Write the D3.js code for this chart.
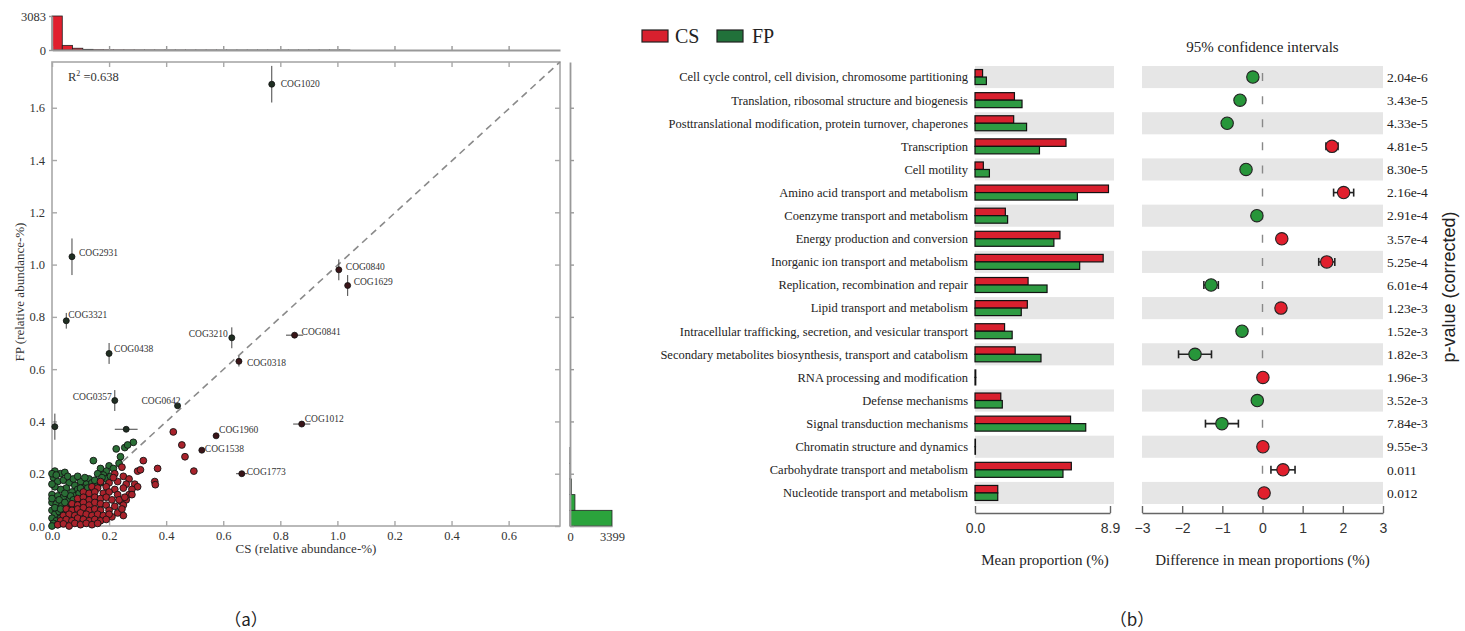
<!DOCTYPE html>
<html>
<head>
<meta charset="utf-8">
<script src="https://cdn.jsdelivr.net/npm/d3@7"></script>
<style>
  body { margin: 0; background: #fff; }
  svg { display: block; }
</style>
</head>
<body>
<div id="chart"></div>
<script>
// ---------- panel (a) : scatter CS vs FP ----------
var xTicks = [0, 0.2, 0.4, 0.6, 0.8, 1.0, 1.2, 1.4, 1.6];
var xTickLabels = ["0.0", "0.2", "0.4", "0.6", "0.8", "1.0", "0.2", "0.4", "0.6"];
var yTicks = [0, 0.2, 0.4, 0.6, 0.8, 1.0, 1.2, 1.4, 1.6];
var yTickLabels = ["0.0", "0.2", "0.4", "0.6", "0.8", "1.0", "1.2", "1.4", "1.6"];

// dense cloud, FP-enriched (green) and CS-enriched (red)
var greenPts = [
  [0.145,0.25],[0.225,0.295],[0.255,0.30],[0.285,0.32],[0.265,0.31],[0.24,0.265],[0.235,0.24],[0.2,0.23],
  [0.19,0.21],[0.17,0.22],[0.215,0.22],[0.18,0.195],[0.16,0.2],[0.13,0.18],[0.12,0.16],
  [0.01,0.21],[0.03,0.2],[0.045,0.205],[0.005,0.185],[0.02,0.17],[0.04,0.175],[0.06,0.165],[0.08,0.155],
  [0.1,0.17],[0.11,0.145],[0.09,0.14],[0.07,0.13],[0.05,0.145],[0.03,0.14],[0.01,0.15],
  [0.0,0.12],[0.02,0.115],[0.04,0.11],[0.06,0.1],[0.08,0.115],[0.1,0.12],[0.12,0.13],[0.14,0.14],
  [0.155,0.155],[0.0,0.09],[0.015,0.085],[0.035,0.08],[0.05,0.07],[0.07,0.085],[0.09,0.095],[0.11,0.1],
  [0.13,0.11],[0.0,0.06],[0.01,0.045],[0.025,0.055],[0.04,0.045],[0.055,0.05],[0.0,0.03],[0.015,0.02],
  [0.03,0.03],[0.005,0.01],[0.02,0.005],[0.0,0.0],[0.065,0.06],[0.08,0.07],[0.17,0.165],[0.19,0.18],
  [0.205,0.19],[0.095,0.125],[0.125,0.145],[0.065,0.115],[0.025,0.1],[0.045,0.125],
  [0.0,0.2],[0.015,0.195],[0.055,0.19],[0.075,0.18],[0.09,0.19],[0.115,0.185],[0.14,0.165],[0.0,0.16],
  [0.0,0.105],[0.01,0.07],[0.03,0.065],[0.045,0.09],[0.075,0.1],[0.1,0.145],[0.15,0.175],[0.175,0.185]
];
var redPts = [
  [0.425,0.36],[0.455,0.31],[0.466,0.265],[0.497,0.21],[0.37,0.22],[0.36,0.17],[0.362,0.158],[0.32,0.25],
  [0.30,0.21],[0.31,0.215],[0.29,0.16],[0.30,0.15],[0.245,0.225],[0.25,0.04],
  [0.22,0.2],[0.25,0.19],[0.27,0.18],
  [0.17,0.17],[0.2,0.165],[0.23,0.17],[0.26,0.16],[0.28,0.14],
  [0.14,0.15],[0.16,0.145],[0.19,0.15],[0.22,0.14],[0.25,0.145],[0.27,0.12],
  [0.11,0.13],[0.13,0.125],[0.15,0.13],[0.18,0.125],[0.2,0.13],[0.23,0.12],[0.26,0.1],
  [0.09,0.105],[0.11,0.11],[0.13,0.1],[0.15,0.11],[0.17,0.105],[0.19,0.11],[0.21,0.1],[0.24,0.095],
  [0.07,0.085],[0.09,0.08],[0.11,0.09],[0.13,0.08],[0.15,0.09],[0.17,0.085],[0.19,0.08],[0.22,0.075],[0.25,0.08],
  [0.05,0.065],[0.07,0.06],[0.09,0.065],[0.11,0.07],[0.13,0.06],[0.15,0.065],[0.17,0.06],[0.2,0.06],[0.23,0.05],
  [0.04,0.04],[0.06,0.045],[0.08,0.04],[0.1,0.05],[0.12,0.045],[0.14,0.04],[0.16,0.045],[0.18,0.04],[0.21,0.035],
  [0.03,0.02],[0.05,0.025],[0.07,0.02],[0.09,0.03],[0.11,0.025],[0.13,0.02],[0.15,0.025],[0.17,0.02],
  [0.02,0.005],[0.04,0.008],[0.06,0.0],[0.08,0.01],[0.1,0.005],[0.12,0.01],[0.14,0.005],
  [0.235,0.1],[0.255,0.11],[0.28,0.12],[0.245,0.065],[0.2,0.045],[0.19,0.025],[0.16,0.01],[0.215,0.185]
];

// highlighted COGs with error bars (half widths)
var cogNames = ["COG1020","COG2931","COG3321","COG0438","COG0357","COG0642","COG3210","COG0318",
                "COG0841","COG0840","COG1629","COG1012","COG1960","COG1538","COG1773","",""];
var cogX    = [0.77, 0.07, 0.05, 0.20, 0.22, 0.44, 0.63, 0.655, 0.85, 1.005, 1.036, 0.875, 0.575, 0.525, 0.665, 0.01, 0.26];
var cogY    = [1.69, 1.03, 0.785, 0.66, 0.48, 0.46, 0.72, 0.63, 0.73, 0.98, 0.92, 0.39, 0.345, 0.29, 0.20, 0.38, 0.37];
var cogErrX = [0.00, 0.00, 0.01, 0.00, 0.00, 0.01, 0.00, 0.01, 0.03, 0.01, 0.00, 0.03, 0.01, 0.01, 0.02, 0.00, 0.04];
var cogErrY = [0.07, 0.07, 0.03, 0.04, 0.04, 0.01, 0.04, 0.02, 0.01, 0.04, 0.04, 0.00, 0.00, 0.00, 0.00, 0.05, 0.00];

// marginal histograms
var topHistBin = 0.036;
var topHist = [3083, 420, 160, 60, 25, 15, 10, 8, 6, 5, 4, 3, 3, 2, 2, 2, 1, 1, 1, 1, 1, 1, 1, 1, 1, 1, 1, 1, 1];
var rightHistBin = 0.06;
var rightHist = [3399, 400, 110, 30, 10];

// ---------- panel (b) : extended error bar ----------
var categories = [
  "Cell cycle control, cell division, chromosome partitioning",
  "Translation, ribosomal structure and biogenesis",
  "Posttranslational modification, protein turnover, chaperones",
  "Transcription",
  "Cell motility",
  "Amino acid transport and metabolism",
  "Coenzyme transport and metabolism",
  "Energy production and conversion",
  "Inorganic ion transport and metabolism",
  "Replication, recombination and repair",
  "Lipid transport and metabolism",
  "Intracellular trafficking, secretion, and vesicular transport",
  "Secondary metabolites biosynthesis, transport and catabolism",
  "RNA processing and modification",
  "Defense mechanisms",
  "Signal transduction mechanisms",
  "Chromatin structure and dynamics",
  "Carbohydrate transport and metabolism",
  "Nucleotide transport and metabolism"
];
var csMean = [0.5, 2.6, 2.55, 6.0, 0.55, 8.8, 2.0, 5.6, 8.45, 3.5, 3.45, 1.95, 2.65, 0.05, 1.7, 6.3, 0.03, 6.35, 1.5];
var fpMean = [0.75, 3.1, 3.4, 4.25, 0.95, 6.75, 2.15, 5.2, 6.9, 4.75, 3.05, 2.45, 4.35, 0.05, 1.8, 7.3, 0.03, 5.8, 1.5];
var diffMean = [-0.24, -0.56, -0.88, 1.73, -0.41, 2.02, -0.14, 0.48, 1.6, -1.28, 0.46, -0.51, -1.68, 0.01, -0.13, -1.01, 0.01, 0.51, 0.04];
var diffCI   = [0.04, 0.04, 0.04, 0.15, 0.04, 0.25, 0.04, 0.03, 0.2, 0.18, 0.03, 0.06, 0.41, 0.02, 0.03, 0.41, 0.02, 0.3, 0.03];
var pValues = ["2.04e-6","3.43e-5","4.33e-5","4.81e-5","8.30e-5","2.16e-4","2.91e-4","3.57e-4","5.25e-4",
               "6.01e-4","1.23e-3","1.52e-3","1.82e-3","1.96e-3","3.52e-3","7.84e-3","9.55e-3","0.011","0.012"];
var meanTicks = [0, 8.9];
var diffTicks = [-3, -2, -1, 0, 1, 2, 3];

// ---------- drawing ----------
var W = 1465, H = 631;
var serif = "Liberation Serif, DejaVu Serif, serif";
var sans = "Liberation Sans, DejaVu Sans, sans-serif";
var RED = "#e11f2d", GREEN = "#27963a";

var svg = d3.select("#chart").append("svg")
    .attr("width", W).attr("height", H);
svg.append("rect").attr("width", W).attr("height", H).attr("fill", "#fff");

function styleAxis(g, color, font, size){
  g.selectAll("path, line").attr("stroke", color).attr("stroke-width", 1.4);
  g.selectAll("text").style("font-family", font).attr("font-size", size).attr("fill", "#333");
}

// scales (a)
var sx = d3.scaleLinear().domain([0, 1.78]).range([52, 560]);
var sy = d3.scaleLinear().domain([0, 1.775]).range([526, 62]);

// frame
svg.append("rect")
  .attr("x", sx(0)).attr("y", sy(1.775))
  .attr("width", sx(1.78) - sx(0)).attr("height", sy(0) - sy(1.775))
  .attr("fill", "none").attr("stroke", "#a8a8a8").attr("stroke-width", 1.6);

var gb = svg.append("g").attr("transform", "translate(0," + sy(0) + ")")
  .call(d3.axisBottom(sx).tickValues(xTicks).tickFormat(function(d, i){ return xTickLabels[i]; })
        .tickSize(-5).tickSizeOuter(0).tickPadding(5));
gb.select(".domain").remove();
styleAxis(gb, "#a8a8a8", serif, 12.5);

var gl = svg.append("g").attr("transform", "translate(" + sx(0) + ",0)")
  .call(d3.axisLeft(sy).tickValues(yTicks).tickFormat(function(d, i){ return yTickLabels[i]; })
        .tickSize(-5).tickSizeOuter(0).tickPadding(7));
gl.select(".domain").remove();
styleAxis(gl, "#a8a8a8", serif, 12.5);

var gt = svg.append("g").attr("transform", "translate(0," + sy(1.775) + ")")
  .call(d3.axisTop(sx).tickValues(xTicks).tickFormat("").tickSize(-5).tickSizeOuter(0));
gt.select(".domain").remove();
styleAxis(gt, "#a8a8a8", serif, 12);

var gr = svg.append("g").attr("transform", "translate(" + sx(1.78) + ",0)")
  .call(d3.axisRight(sy).tickValues(yTicks).tickFormat("").tickSize(-5).tickSizeOuter(0));
gr.select(".domain").remove();
styleAxis(gr, "#a8a8a8", serif, 12);

// diagonal
svg.append("line")
  .attr("x1", sx(0)).attr("y1", sy(0)).attr("x2", sx(1.78)).attr("y2", sy(1.775))
  .attr("stroke", "#8a8a8a").attr("stroke-width", 1.6).attr("stroke-dasharray", "7,5");

// cloud
svg.append("g").selectAll("circle").data(greenPts).enter().append("circle")
  .attr("cx", function(d){ return sx(d[0]); }).attr("cy", function(d){ return sy(d[1]); })
  .attr("r", 3.4).attr("fill", "#2a6e36").attr("stroke", "#141414").attr("stroke-width", 0.9);
svg.append("g").selectAll("circle").data(redPts).enter().append("circle")
  .attr("cx", function(d){ return sx(d[0]); }).attr("cy", function(d){ return sy(d[1]); })
  .attr("r", 3.4).attr("fill", "#a8222b").attr("stroke", "#141414").attr("stroke-width", 0.9);

// highlighted COGs
var cogs = cogNames.map(function(n, i){
  return { name: n, x: cogX[i], y: cogY[i], ex: cogErrX[i], ey: cogErrY[i] };
});
var labelPos = {
  "COG1020": [9, -1, "start"], "COG2931": [7, -4, "start"], "COG3321": [2, -6, "start"],
  "COG0438": [5, -5, "start"], "COG0357": [-3, -4, "end"], "COG0642": [3, -5, "end"],
  "COG3210": [-4, -4, "end"], "COG0318": [8, 1, "start"], "COG0841": [7, -3, "start"],
  "COG0840": [7, -3, "start"], "COG1629": [6, -4, "start"], "COG1012": [3, -5, "start"],
  "COG1960": [3, -6, "start"], "COG1538": [3, -2, "start"], "COG1773": [5, -2, "start"]
};
var cg = svg.append("g");
cogs.forEach(function(d){
  if (d.ey > 0) cg.append("line")
    .attr("x1", sx(d.x)).attr("x2", sx(d.x)).attr("y1", sy(d.y - d.ey)).attr("y2", sy(d.y + d.ey))
    .attr("stroke", "#444").attr("stroke-width", 1);
  if (d.ex > 0) cg.append("line")
    .attr("x1", sx(d.x - d.ex)).attr("x2", sx(d.x + d.ex)).attr("y1", sy(d.y)).attr("y2", sy(d.y))
    .attr("stroke", "#444").attr("stroke-width", 1);
  cg.append("circle").attr("cx", sx(d.x)).attr("cy", sy(d.y)).attr("r", 3)
    .attr("fill", d.y > d.x ? "#1f2e22" : "#3a1518").attr("stroke", "#111").attr("stroke-width", 0.8);
  if (d.name) {
    var p = labelPos[d.name];
    cg.append("text").attr("x", sx(d.x) + p[0]).attr("y", sy(d.y) + p[1])
      .attr("dy", "0.35em").attr("text-anchor", p[2])
      .style("font-family", serif).attr("font-size", 9.5).attr("fill", "#333")
      .text(d.name);
  }
});

// R^2
var r2 = svg.append("text").attr("x", 68).attr("y", 81)
  .style("font-family", serif).attr("font-size", 12.5).attr("fill", "#333");
r2.append("tspan").text("R");
r2.append("tspan").attr("dy", -5).attr("font-size", 8).text("2");
r2.append("tspan").attr("dy", 5).text(" =0.638");

// axis titles (a)
svg.append("text").attr("x", sx(0.89)).attr("y", 553).attr("text-anchor", "middle")
  .style("font-family", serif).attr("font-size", 13).attr("fill", "#333")
  .text("CS (relative abundance-%)");
svg.append("text").attr("transform", "translate(24,292) rotate(-90)").attr("text-anchor", "middle")
  .style("font-family", serif).attr("font-size", 13).attr("fill", "#333")
  .text("FP (relative abundance-%)");

// top histogram (CS)
var hy = d3.scaleLinear().domain([0, 3083]).range([50, 16]);
svg.append("g").selectAll("rect").data(topHist).enter().append("rect")
  .attr("x", function(d, i){ return sx(i * topHistBin); })
  .attr("width", sx(topHistBin) - sx(0))
  .attr("y", function(d){ return hy(d); })
  .attr("height", function(d){ return hy(0) - hy(d); })
  .attr("fill", RED).attr("stroke", "#222").attr("stroke-width", 0.8);
var ght = svg.append("g").attr("transform", "translate(0," + hy(0) + ")")
  .call(d3.axisTop(sx).tickValues(xTicks).tickFormat("").tickSize(4).tickSizeOuter(0));
styleAxis(ght, "#999", serif, 12);
ght.select(".domain").attr("stroke-width", 1.8);
var ghl = svg.append("g").attr("transform", "translate(" + sx(0) + ",0)")
  .call(d3.axisLeft(hy).tickValues([0, 3083]).tickFormat(d3.format("d")).tickSize(3).tickSizeOuter(0).tickPadding(3));
styleAxis(ghl, "#999", serif, 12.5);

// right histogram (FP)
var rx = d3.scaleLinear().domain([0, 3399]).range([570, 612]);
svg.append("g").selectAll("rect").data(rightHist).enter().append("rect")
  .attr("x", rx(0))
  .attr("width", function(d){ return rx(d) - rx(0); })
  .attr("y", function(d, i){ return sy((i + 1) * rightHistBin); })
  .attr("height", sy(0) - sy(rightHistBin))
  .attr("fill", "#2ba33c").attr("stroke", "#222").attr("stroke-width", 0.8);
var ghr = svg.append("g").attr("transform", "translate(" + rx(0) + ",0)")
  .call(d3.axisRight(sy).tickValues(yTicks).tickFormat("").tickSize(4).tickSizeOuter(0));
styleAxis(ghr, "#999", serif, 12);
ghr.select(".domain").attr("stroke-width", 1.8);
var ghb = svg.append("g").attr("transform", "translate(0," + sy(0) + ")")
  .call(d3.axisBottom(rx).tickValues([0, 3399]).tickFormat(d3.format("d")).tickSize(0).tickPadding(6));
styleAxis(ghb, "#999", serif, 12.5);

svg.append("text").attr("x", 246).attr("y", 626).attr("text-anchor", "middle")
  .style("font-family", "Noto Sans CJK SC, sans-serif").attr("font-size", 17).attr("fill", "#222")
  .text("（a）");

// ---------- panel (b) ----------
var rows = d3.scaleBand().domain(categories).range([65.5, 504.5]);
var bx = d3.scaleLinear().domain([0, 8.9]).range([975, 1110]);
var cx = d3.scaleLinear().domain([-3, 3]).range([1142, 1383]);
function rc(i){ return rows(categories[i]) + rows.bandwidth() / 2; }

// legend
svg.append("rect").attr("x", 642).attr("y", 30).attr("width", 26).attr("height", 12)
  .attr("fill", "#d8202e").attr("stroke", "#222").attr("stroke-width", 1.2);
svg.append("text").attr("x", 675).attr("y", 43).style("font-family", serif).attr("font-size", 20)
  .attr("fill", "#222").text("CS");
svg.append("rect").attr("x", 717).attr("y", 30).attr("width", 26).attr("height", 12)
  .attr("fill", "#21713a").attr("stroke", "#222").attr("stroke-width", 1.2);
svg.append("text").attr("x", 752).attr("y", 43).style("font-family", serif).attr("font-size", 20)
  .attr("fill", "#222").text("FP");

// shaded rows
var shaded = categories.filter(function(c, i){ return i % 2 === 0; });
svg.append("g").selectAll("rect").data(shaded).enter().append("rect")
  .attr("x", bx(0)).attr("width", 1114 - bx(0))
  .attr("y", function(c){ return rows(c) + 0.5; }).attr("height", rows.bandwidth() - 1)
  .attr("fill", "#e6e6e6");
svg.append("g").selectAll("rect").data(shaded).enter().append("rect")
  .attr("x", cx(-3)).attr("width", cx(3) - cx(-3))
  .attr("y", function(c){ return rows(c) + 0.5; }).attr("height", rows.bandwidth() - 1)
  .attr("fill", "#e6e6e6");

// category labels
svg.append("g").selectAll("text").data(categories).enter().append("text")
  .attr("x", 968).attr("y", function(c, i){ return rc(i); }).attr("dy", "0.35em")
  .attr("text-anchor", "end").style("font-family", serif).attr("font-size", 12.5).attr("fill", "#222")
  .text(function(c){ return c; });

// bars
var bh = 7.5;
svg.append("g").selectAll("rect").data(csMean).enter().append("rect")
  .attr("x", bx(0)).attr("width", function(d){ return bx(d) - bx(0); })
  .attr("y", function(d, i){ return rc(i) - bh; }).attr("height", bh)
  .attr("fill", "#d8202e").attr("stroke", "#111").attr("stroke-width", 1.2);
svg.append("g").selectAll("rect").data(fpMean).enter().append("rect")
  .attr("x", bx(0)).attr("width", function(d){ return bx(d) - bx(0); })
  .attr("y", function(d, i){ return rc(i); }).attr("height", bh)
  .attr("fill", "#2e9a42").attr("stroke", "#111").attr("stroke-width", 1.2);

var gm = svg.append("g").attr("transform", "translate(0,513)")
  .call(d3.axisBottom(bx).tickValues(meanTicks).tickFormat(d3.format(".1f")).tickSize(-7).tickSizeOuter(0).tickPadding(10));
styleAxis(gm, "#666", sans, 14);

// CI panel
svg.append("line").attr("x1", cx(0)).attr("x2", cx(0))
  .attr("y1", rc(0) - 4).attr("y2", rc(categories.length - 1) + 5)
  .attr("stroke", "#888").attr("stroke-width", 1.4)
  .attr("stroke-dasharray", "8," + (rows.step() - 8));

var eg = svg.append("g");
diffMean.forEach(function(d, i){
  var w = diffCI[i], y = rc(i);
  eg.append("line").attr("x1", cx(d - w)).attr("x2", cx(d + w)).attr("y1", y).attr("y2", y)
    .attr("stroke", "#222").attr("stroke-width", 1.6);
  [d - w, d + w].forEach(function(v){
    eg.append("line").attr("x1", cx(v)).attr("x2", cx(v)).attr("y1", y - 4).attr("y2", y + 4)
      .attr("stroke", "#222").attr("stroke-width", 1.6);
  });
});
svg.append("g").selectAll("circle").data(diffMean).enter().append("circle")
  .attr("cx", function(d){ return cx(d); }).attr("cy", function(d, i){ return rc(i); })
  .attr("r", 6.2).attr("fill", function(d){ return d > 0 ? RED : GREEN; })
  .attr("stroke", "#222").attr("stroke-width", 1.1);

var gd = svg.append("g").attr("transform", "translate(0,513)")
  .call(d3.axisBottom(cx).tickValues(diffTicks).tickFormat(d3.format("d")).tickSize(-7).tickSizeOuter(0).tickPadding(10));
styleAxis(gd, "#666", sans, 14);

// p-values
svg.append("g").selectAll("text").data(pValues).enter().append("text")
  .attr("x", 1387).attr("y", function(d, i){ return rc(i); }).attr("dy", "0.35em")
  .style("font-family", serif).attr("font-size", 13.5).attr("fill", "#222")
  .text(function(d){ return d; });

// titles (b)
svg.append("text").attr("x", cx(0)).attr("y", 52).attr("text-anchor", "middle")
  .style("font-family", serif).attr("font-size", 15).attr("fill", "#222").text("95% confidence intervals");
svg.append("text").attr("x", 1045).attr("y", 565).attr("text-anchor", "middle")
  .style("font-family", serif).attr("font-size", 15).attr("fill", "#222").text("Mean proportion (%)");
svg.append("text").attr("x", cx(0)).attr("y", 565).attr("text-anchor", "middle")
  .style("font-family", serif).attr("font-size", 15).attr("fill", "#222").text("Difference in mean proportions (%)");
svg.append("text").attr("transform", "translate(1449,287) rotate(-90)").attr("text-anchor", "middle")
  .attr("dy", "0.35em").style("font-family", sans).attr("font-size", 18).attr("fill", "#222")
  .text("p-value (corrected)");

svg.append("text").attr("x", 1132).attr("y", 626).attr("text-anchor", "middle")
  .style("font-family", "Noto Sans CJK SC, sans-serif").attr("font-size", 17).attr("fill", "#222")
  .text("（b）");
</script>
</body>
</html>
